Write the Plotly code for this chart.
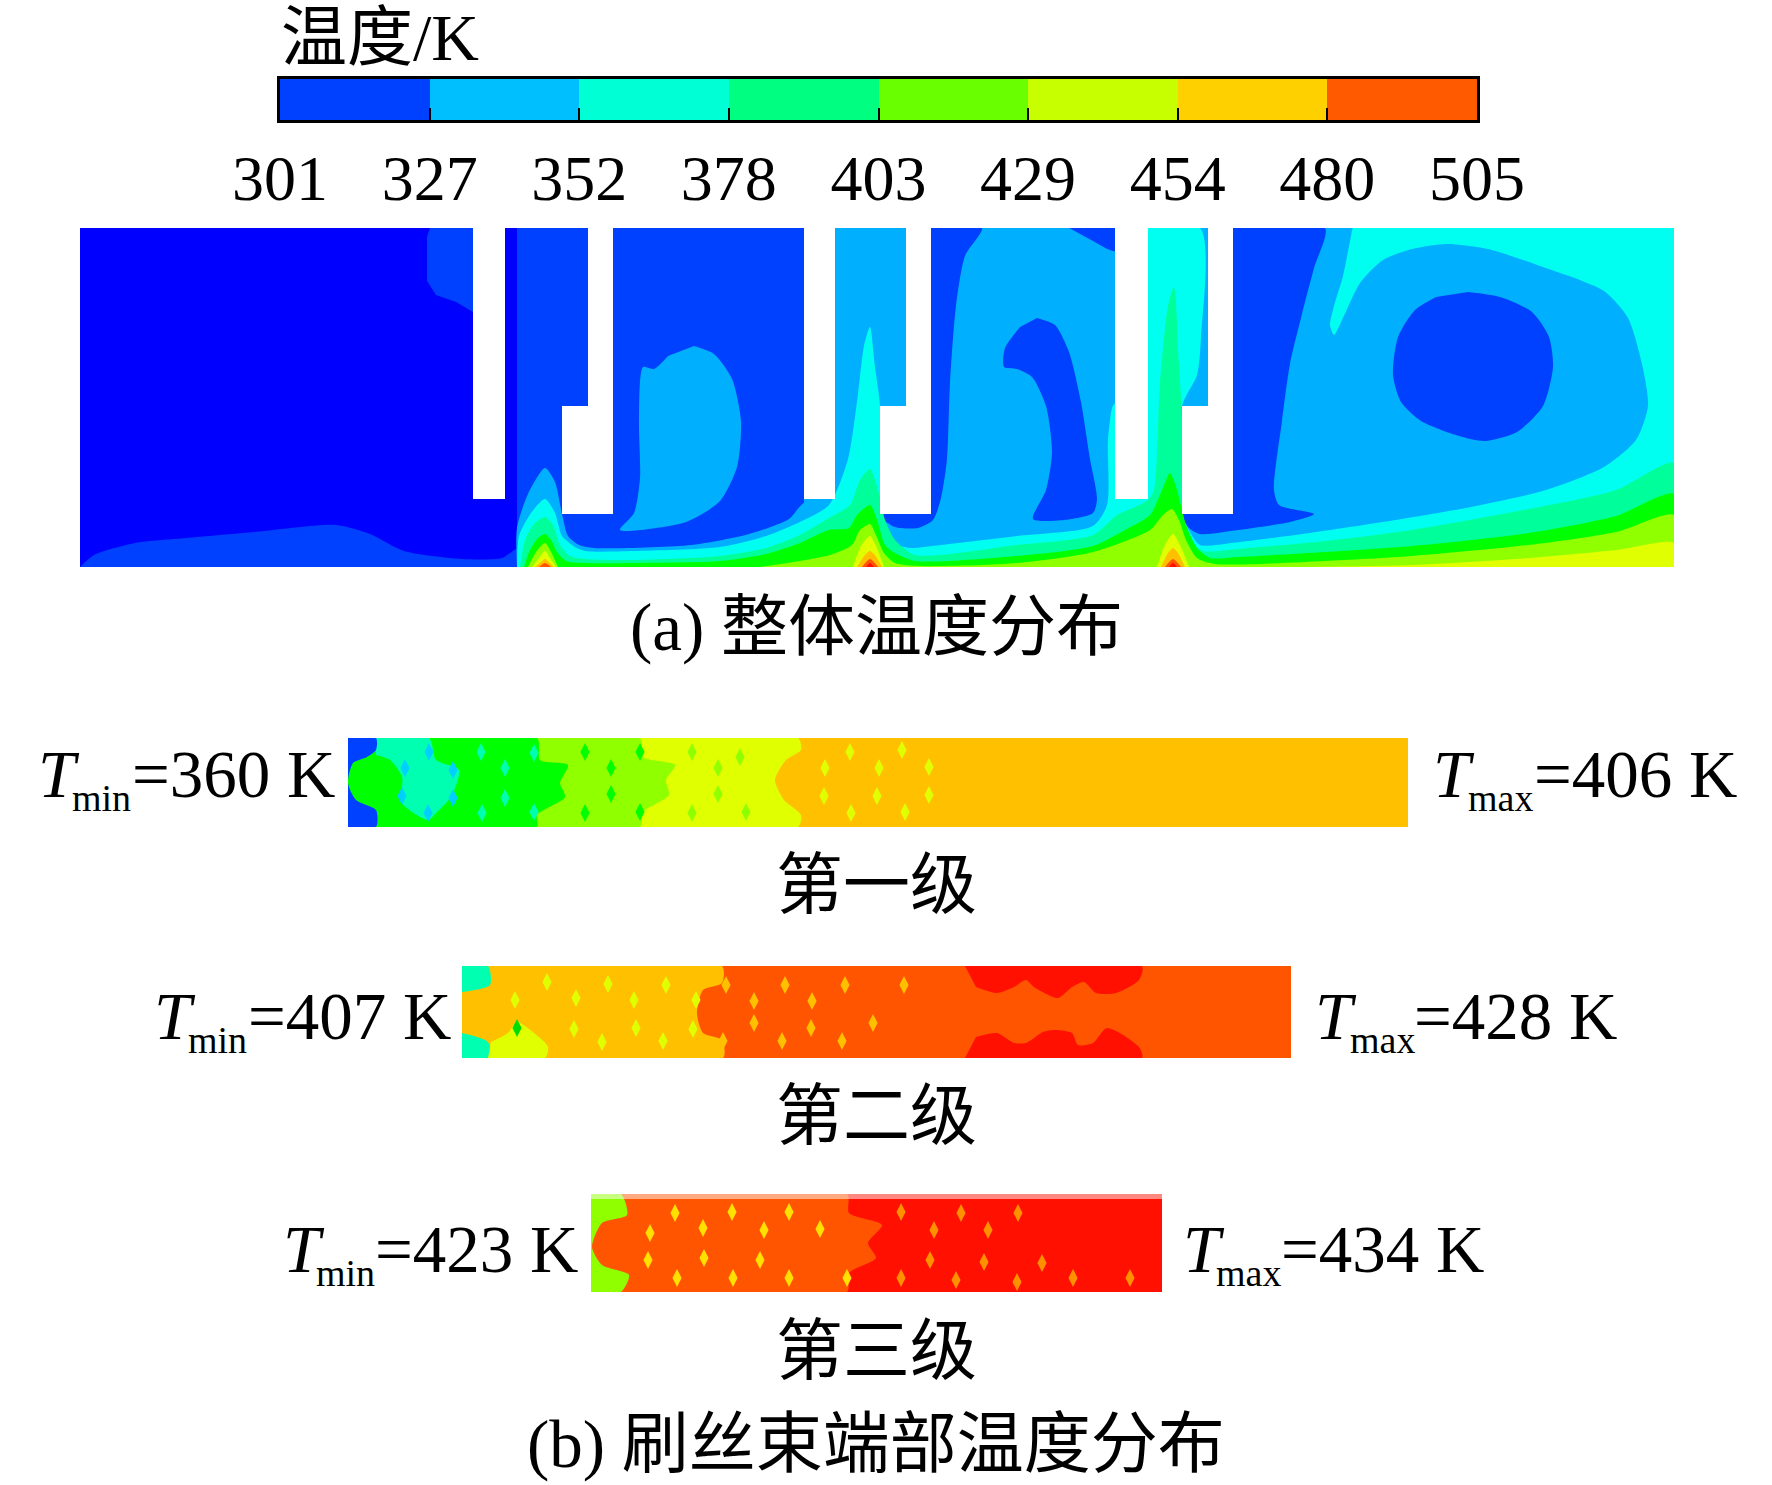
import plotly.graph_objects as go

# ---------- colour bar values ----------
bar_edges = [301, 326.5, 352, 377.5, 403, 428.5, 454, 479.5, 505]
bar_labels = ['301', '327', '352', '378', '403', '429', '454', '480', '505']
bar_colors = ['#0040FF', '#00BFFF', '#00FFD5', '#00FF80', '#6AFF00', '#C8FF00', '#FFD000', '#FF5A00']

# contour colours
C_DEEP = '#0000FF'
C_BLUE = '#0040FF'
C_SKY = '#00B0FF'
C_CYAN = '#00FFF0'
C_TEAL = '#00FF9A'
C_GREEN = '#00FF00'
C_LIME = '#90FF00'
C_YELLOW = '#E0FF00'
C_AMBER = '#FFC000'
C_ORANGE = '#FF5500'
C_RED = '#FF1000'

# ---------- (a) regions, axis units = picture pixels ----------
whole_left = [(80, 228), (517, 228), (517, 567), (80, 567)]
whole_right = [(517, 228), (1674, 228), (1674, 567), (517, 567)]
top_left_patch = [(430, 228), (473, 228), (473, 312), (456, 302), (436, 295), (427, 281), (427, 237)]
floor_patch = [(80, 567), (94, 555), (135, 543), (186, 538), (255, 532), (336, 525), (370, 534), (404, 551),
               (462, 559), (502, 558), (517, 549), (517, 567)]

sky_left = [(517, 567), (517, 528), (528, 494), (545, 468), (555, 482), (562, 514), (568, 536), (579, 545),
            (594, 548), (691, 545), (749, 534), (789, 519), (804, 503), (835, 503), (835, 567)]
sky_right = [(804, 228), (1674, 228), (1674, 567), (804, 567)]
sky_island = [(694, 346), (714, 354), (732, 379), (741, 421), (737, 467), (720, 501), (686, 522), (620, 530),
              (634, 513), (640, 478), (639, 421), (643, 367), (654, 369), (668, 356)]

blue_strip = [(931, 228), (982, 228), (965, 256), (956, 306), (950, 383), (947, 459), (941, 498), (933, 520),
              (918, 528), (895, 527), (879, 515), (931, 514)]
blue_corner = [(1069, 228), (1115, 228), (1115, 251), (1093, 241)]
blue_island = [(1037, 318), (1055, 325), (1069, 352), (1081, 402), (1090, 459), (1097, 499), (1093, 513),
               (1064, 520), (1033, 519), (1046, 490), (1052, 452), (1046, 406), (1032, 377), (1017, 369),
               (1004, 367), (1005, 348), (1020, 327)]
blue_wedge = [(1233, 228), (1325, 228), (1314, 268), (1302, 314), (1290, 364), (1282, 421), (1274, 490),
              (1279, 505), (1314, 514), (1290, 522), (1238, 530), (1200, 534), (1189, 528), (1182, 514), (1233, 514)]
blue_oval = [(1468, 292), (1500, 297), (1532, 312), (1549, 337), (1553, 367), (1543, 406), (1517, 432),
             (1485, 441), (1459, 436), (1421, 421), (1401, 402), (1393, 375), (1398, 337), (1415, 310), (1436, 297)]

cyan_band = [(517, 567), (519, 536), (531, 513), (545, 499), (555, 513), (562, 536), (575, 547), (585, 551),
             (634, 551), (720, 547), (766, 536), (800, 522), (829, 505), (848, 459), (858, 394), (864, 346),
             (870, 327), (875, 367), (880, 406), (881, 514), (883, 530), (892, 543), (910, 548), (941, 545),
             (1017, 536), (1093, 526), (1107, 505), (1108, 440), (1112, 408), (1116, 400), (1122, 300),
             (1122, 228), (1200, 228), (1201, 337), (1197, 375), (1182, 406), (1182, 514), (1189, 530),
             (1200, 545), (1232, 543), (1302, 534), (1383, 522), (1471, 507), (1546, 490), (1604, 467),
             (1636, 440), (1648, 406), (1642, 364), (1628, 318), (1604, 291), (1540, 266), (1488, 249),
             (1447, 244), (1412, 249), (1383, 260), (1360, 283), (1343, 318), (1334, 335), (1330, 325),
             (1334, 306), (1343, 276), (1351, 236), (1353, 228), (1360, 228), (1668, 228), (1674, 228),
             (1674, 234), (1674, 562), (1674, 567)]
teal_band = [(520, 567), (525, 540), (535, 523), (545, 517), (553, 525), (560, 545), (570, 556), (585, 559),
             (634, 560), (720, 556), (766, 548), (800, 535), (829, 518), (850, 505), (860, 480), (870, 469),
             (878, 490), (885, 520), (895, 540), (915, 555), (1017, 545), (1093, 535), (1117, 515), (1135, 507),
             (1148, 500), (1154, 490), (1160, 383), (1168, 306), (1174, 287), (1179, 364), (1183, 440),
             (1183, 514), (1189, 540), (1203, 551), (1238, 549), (1325, 541), (1412, 530), (1529, 509),
             (1616, 490), (1674, 463), (1674, 567)]
green_band = [(524, 567), (530, 550), (538, 538), (545, 534), (551, 540), (557, 552), (566, 561), (585, 563),
              (634, 563), (720, 561), (766, 554), (800, 543), (829, 530), (849, 528), (857, 515), (870, 505),
              (877, 520), (885, 545), (895, 553), (915, 561), (1017, 556), (1093, 546), (1125, 530), (1150, 515),
              (1162, 490), (1170, 473), (1177, 490), (1186, 525), (1197, 548), (1210, 558), (1238, 557),
              (1325, 552), (1412, 546), (1529, 533), (1616, 516), (1674, 494), (1674, 567)]
lime_a = [(528, 567), (536, 552), (545, 543), (551, 552), (558, 567)]
lime_band = [(760, 567), (830, 555), (852, 545), (860, 530), (870, 524), (876, 535), (884, 553), (895, 563),
             (920, 566), (1017, 563), (1093, 552), (1150, 530), (1163, 515), (1172, 509), (1179, 520), (1186, 540),
             (1197, 558), (1215, 564), (1325, 561), (1412, 556), (1529, 545), (1616, 532), (1674, 515), (1674, 567)]
yellow_a = [(532, 567), (539, 558), (545, 551), (550, 558), (556, 567)]
yellow_b = [(853, 567), (861, 546), (870, 536), (876, 546), (884, 567)]
yellow_c = [(1157, 567), (1165, 545), (1173, 534), (1180, 545), (1189, 567)]
yellow_right = [(1300, 567), (1412, 565), (1529, 558), (1616, 550), (1674, 543), (1674, 567)]
amber_a = [(535, 567), (541, 562), (545, 559), (549, 562), (554, 567)]
amber_b = [(857, 567), (865, 555), (870, 551), (875, 555), (882, 567)]
amber_c = [(1161, 567), (1168, 553), (1173, 548), (1178, 553), (1185, 567)]
orange_a = [(539, 567), (545, 563), (551, 567)]
orange_b = [(862, 567), (870, 559), (878, 567)]
orange_c = [(1165, 567), (1173, 559), (1181, 567)]
red_b = [(866, 567), (870, 563), (874, 567)]
red_c = [(1169, 567), (1173, 563), (1177, 567)]

# the seal teeth are left blank
tooth_1 = [(473, 228), (505, 228), (505, 499), (473, 499)]
tooth_2 = [(588, 228), (613, 228), (613, 514), (562, 514), (562, 406), (588, 406)]
tooth_3 = [(804, 228), (835, 228), (835, 499), (804, 499)]
tooth_4 = [(906, 228), (931, 228), (931, 514), (880, 514), (880, 406), (906, 406)]
tooth_5 = [(1115, 228), (1148, 228), (1148, 499), (1115, 499)]
tooth_6 = [(1208, 228), (1233, 228), (1233, 514), (1182, 514), (1182, 406), (1208, 406)]

# white frames that trim the smoothed edges back to the panels
trim_a = [[(60, 210), (1700, 210), (1700, 228), (60, 228)], [(60, 567), (1700, 567), (1700, 590), (60, 590)],
          [(1674, 210), (1700, 210), (1700, 590), (1674, 590)], [(60, 210), (80, 210), (80, 590), (60, 590)]]
trim_s1 = [[(340, 725), (1420, 725), (1420, 738), (340, 738)], [(340, 827), (1420, 827), (1420, 840), (340, 840)],
           [(338, 725), (348, 725), (348, 840), (338, 840)]]
trim_s2 = [[(455, 955), (1300, 955), (1300, 966), (455, 966)], [(455, 1058), (1300, 1058), (1300, 1070), (455, 1070)],
           [(452, 955), (462, 955), (462, 1070), (452, 1070)]]
trim_s3 = [[(585, 1184), (1170, 1184), (1170, 1194), (585, 1194)], [(585, 1292), (1170, 1292), (1170, 1302), (585, 1302)],
           [(582, 1184), (591, 1184), (591, 1302), (582, 1302)]]

# ---------- (b) first stage ----------
s1_box = [(348, 738), (1408, 738), (1408, 827), (348, 827)]
s1_yellow = [(348, 738), (798, 738), (801, 750), (786, 760), (775, 780), (784, 800), (801, 815), (798, 827), (348, 827)]
s1_lime = [(348, 738), (640, 738), (643, 757), (675, 765), (666, 780), (669, 795), (643, 812), (640, 827), (348, 827)]
s1_green = [(348, 738), (537, 738), (540, 760), (568, 765), (560, 783), (565, 797), (537, 815), (537, 827), (348, 827)]
s1_teal = [(376, 738), (429, 738), (436, 760), (459, 770), (451, 797), (436, 813), (428, 820), (402, 803),
           (402, 777), (390, 760), (376, 755)]
s1_blue = [(348, 738), (376, 738), (376, 750), (367, 757), (353, 763), (348, 783), (356, 800), (376, 810),
           (376, 827), (348, 827)]
s1_sky_x = [405, 453, 402, 453, 429, 428]
s1_sky_y = [768, 770, 796, 798, 752, 813]
s1_teal_x = [481, 505, 505, 482, 534, 534]
s1_teal_y = [752, 768, 798, 813, 753, 812]
s1_green_x = [585, 611, 611, 585, 640, 640]
s1_green_y = [752, 768, 794, 813, 752, 812]
s1_lime_x = [692, 718, 718, 692, 746, 740]
s1_lime_y = [752, 768, 794, 813, 812, 757]
s1_yellow_x = [850, 825, 879, 824, 877, 851, 905, 902, 929, 929]
s1_yellow_y = [752, 768, 768, 796, 796, 813, 812, 750, 767, 795]

# ---------- (b) second stage ----------
s2_box = [(462, 966), (1291, 966), (1291, 1058), (462, 1058)]
s2_amber = [(462, 966), (722, 966), (722, 983), (703, 990), (697, 1013), (703, 1033), (722, 1040), (723, 1058), (462, 1058)]
s2_teal_top = [(462, 966), (488, 966), (490, 985), (462, 992)]
s2_teal_low = [(462, 1033), (488, 1042), (491, 1058), (462, 1058)]
s2_yellow = [(491, 1042), (508, 1033), (517, 1022), (534, 1033), (548, 1047), (545, 1058), (488, 1058)]
s2_red_top = [(965, 966), (1142, 966), (1139, 980), (1116, 993), (1096, 993), (1084, 982), (1072, 987), (1058, 998),
              (1034, 987), (1026, 980), (1014, 987), (997, 993), (976, 987)]
s2_red_low = [(965, 1058), (1142, 1058), (1139, 1047), (1107, 1028), (1093, 1043), (1078, 1045), (1072, 1033),
              (1055, 1030), (1043, 1032), (1026, 1043), (1014, 1043), (997, 1033), (976, 1037)]
s2_yellow_x = [547, 515, 576, 634, 608, 666, 574, 636, 602, 663, 696, 693]
s2_yellow_y = [982, 1000, 998, 1000, 984, 985, 1029, 1028, 1042, 1041, 1000, 1029]
s2_green_x = [517]
s2_green_y = [1028]
s2_amber_x = [726, 785, 845, 754, 812, 754, 811, 723, 782, 842, 904, 873]
s2_amber_y = [985, 985, 985, 1001, 1001, 1023, 1028, 1041, 1041, 1041, 985, 1023]

# ---------- (b) third stage ----------
s3_box = [(591, 1194), (1162, 1194), (1162, 1292), (591, 1292)]
s3_orange = [(591, 1194), (847, 1194), (849, 1213), (882, 1225), (868, 1243), (876, 1258), (849, 1273), (847, 1292), (591, 1292)]
s3_lime = [(591, 1194), (621, 1194), (627, 1215), (602, 1223), (592, 1247), (602, 1265), (629, 1275), (621, 1292), (591, 1292)]
s3_glow = [(591, 1194), (1162, 1194), (1162, 1199), (591, 1199)]
s3_yellow_x = [675, 732, 789, 650, 703, 764, 820, 648, 704, 760, 677, 733, 789, 847]
s3_yellow_y = [1213, 1212, 1212, 1233, 1228, 1230, 1229, 1260, 1258, 1260, 1278, 1278, 1278, 1278]
s3_orange_x = [901, 961, 1018, 934, 988, 930, 984, 1042, 901, 956, 1073, 1130, 1017]
s3_orange_y = [1212, 1213, 1213, 1230, 1230, 1260, 1262, 1263, 1278, 1280, 1278, 1278, 1282]

# ---------- texts ----------
limit_names = ['min', 'max', 'min', 'max', 'min', 'max']
limit_texts = ['=360 K', '=406 K', '=407 K', '=428 K', '=423 K', '=434 K']
limit_t_x = [37, 1432, 153, 1314, 282, 1182]
limit_sub_x = [71, 1467, 187, 1349, 315, 1215]
limit_text_x = [131, 1533, 247, 1413, 374, 1280]
limit_y = [774, 774, 1016, 1016, 1249, 1249]

captions = ['(a) 整体温度分布', '第一级', '第二级', '第三级', '(b) 刷丝束端部温度分布']
caption_y = [627, 885, 1116, 1351, 1444]

FONT = 'Liberation Serif, Noto Sans CJK SC'
SIZE = 67

fig = go.Figure()


def add_region(points, color, smooth=True):
    line = dict(width=0, shape='spline', smoothing=0.7) if smooth else dict(width=0)
    fig.add_trace(go.Scatter(x=[p[0] for p in points], y=[p[1] for p in points], mode='lines', fill='toself',
                             fillcolor=color, line=line, hoverinfo='skip', showlegend=False))


def add_spots(xs, ys, color, size=13):
    fig.add_trace(go.Scatter(x=xs, y=ys, mode='markers', hoverinfo='skip', showlegend=False,
                             marker=dict(symbol='diamond-tall', size=size, color=color, line=dict(width=0))))


# overall temperature field, painted from cold to hot
add_region(whole_left, C_DEEP, smooth=False)
add_region(top_left_patch, C_BLUE, smooth=False)
add_region(floor_patch, C_BLUE)
add_region(whole_right, C_BLUE, smooth=False)
add_region(sky_left, C_SKY)
add_region(sky_right, C_SKY, smooth=False)
add_region(sky_island, C_SKY)
for island in [blue_strip, blue_corner, blue_island, blue_wedge, blue_oval]:
    add_region(island, C_BLUE)
add_region(cyan_band, C_CYAN)
add_region(teal_band, C_TEAL)
add_region(green_band, C_GREEN)
add_region(lime_a, C_LIME)
add_region(lime_band, C_LIME)
for part in [yellow_a, yellow_b, yellow_c, yellow_right]:
    add_region(part, C_YELLOW)
for part in [amber_a, amber_b, amber_c]:
    add_region(part, C_AMBER)
for part in [orange_a, orange_b, orange_c]:
    add_region(part, C_ORANGE)
for part in [red_b, red_c]:
    add_region(part, C_RED)
for tooth in [tooth_1, tooth_2, tooth_3, tooth_4, tooth_5, tooth_6]:
    add_region(tooth, 'white', smooth=False)
for piece in trim_a:
    add_region(piece, 'white', smooth=False)

# first stage
add_region(s1_box, C_AMBER, smooth=False)
add_region(s1_yellow, C_YELLOW)
add_region(s1_lime, C_LIME)
add_region(s1_green, C_GREEN)
add_region(s1_teal, '#00FFB0')
add_region(s1_blue, C_BLUE)
add_spots(s1_sky_x, s1_sky_y, '#00D0FF')
add_spots(s1_teal_x, s1_teal_y, '#00FFB0')
add_spots(s1_green_x, s1_green_y, C_GREEN)
add_spots(s1_lime_x, s1_lime_y, C_LIME)
add_spots(s1_yellow_x, s1_yellow_y, C_YELLOW)
for piece in trim_s1:
    add_region(piece, 'white', smooth=False)

# second stage
add_region(s2_box, C_ORANGE, smooth=False)
add_region(s2_amber, C_AMBER)
add_region(s2_teal_top, '#00FFB0')
add_region(s2_teal_low, '#00FFB0')
add_region(s2_yellow, C_YELLOW)
add_region(s2_red_top, C_RED)
add_region(s2_red_low, C_RED)
add_spots(s2_yellow_x, s2_yellow_y, C_YELLOW)
add_spots(s2_green_x, s2_green_y, '#00DD00')
add_spots(s2_amber_x, s2_amber_y, C_AMBER)
for piece in trim_s2:
    add_region(piece, 'white', smooth=False)

# third stage
add_region(s3_box, C_RED, smooth=False)
add_region(s3_orange, C_ORANGE)
add_region(s3_lime, C_LIME)
add_spots(s3_yellow_x, s3_yellow_y, '#FFE000')
add_spots(s3_orange_x, s3_orange_y, '#FF9000')
for piece in trim_s3:
    add_region(piece, 'white', smooth=False)
add_region(s3_glow, 'rgba(255,255,255,0.5)', smooth=False)

# colour bar
fig.add_trace(go.Heatmap(x=bar_edges, y=[0, 1], z=[list(range(len(bar_colors)))], xaxis='x2', yaxis='y2',
                         colorscale=[[i / (len(bar_colors) - 1), c] for i, c in enumerate(bar_colors)],
                         zmin=0, zmax=len(bar_colors) - 1, showscale=False, hoverinfo='skip'))

annotations = [dict(x=280, y=37, text='温度/K', xanchor='left', font=dict(size=66))]
for cap, y in zip(captions, caption_y):
    annotations.append(dict(x=876, y=y, text=cap, xanchor='center', font=dict(size=SIZE)))
for i in range(len(limit_texts)):
    annotations.append(dict(x=limit_t_x[i], y=limit_y[i], text='<i>T</i>', xanchor='left', font=dict(size=SIZE)))
    annotations.append(dict(x=limit_sub_x[i], y=limit_y[i] + 24, text=limit_names[i], xanchor='left', font=dict(size=38)))
    annotations.append(dict(x=limit_text_x[i], y=limit_y[i], text=limit_texts[i], xanchor='left', font=dict(size=SIZE)))
for a in annotations:
    a.update(xref='x', yref='y', yanchor='middle', showarrow=False)
    a['font'].update(family=FONT, color='black')
    a.update(borderpad=0)

fig.update_layout(
    width=1772, height=1485, margin=dict(l=0, r=0, t=0, b=0, autoexpand=False),
    paper_bgcolor='white', plot_bgcolor='white', showlegend=False,
    annotations=annotations,
    xaxis=dict(range=[0, 1772], domain=[0, 1], visible=False),
    yaxis=dict(range=[1485, 0], domain=[0, 1], visible=False),
    xaxis2=dict(domain=[280 / 1772, 1477 / 1772], anchor='y2', range=[301, 505], tickmode='array',
                tickvals=bar_edges, ticktext=bar_labels, ticks='inside', ticklen=12, tickwidth=2,
                tickcolor='black', showline=True, linecolor='black', linewidth=3, mirror=True, showgrid=False,
                zeroline=False, ticklabelstandoff=0, tickfont=dict(family=FONT, size=64, color='black')),
    yaxis2=dict(domain=[1 - 120 / 1485, 1 - 79 / 1485], anchor='x2', range=[0, 1], showticklabels=False, ticks='',
                showline=True, linecolor='black', linewidth=3, mirror=True, showgrid=False, zeroline=False),
)

# the browser's default body margin would shift the picture by 8 px
fig.write_html("out.html", post_script="document.body.style.margin='0';", config={'displayModeBar': False})
